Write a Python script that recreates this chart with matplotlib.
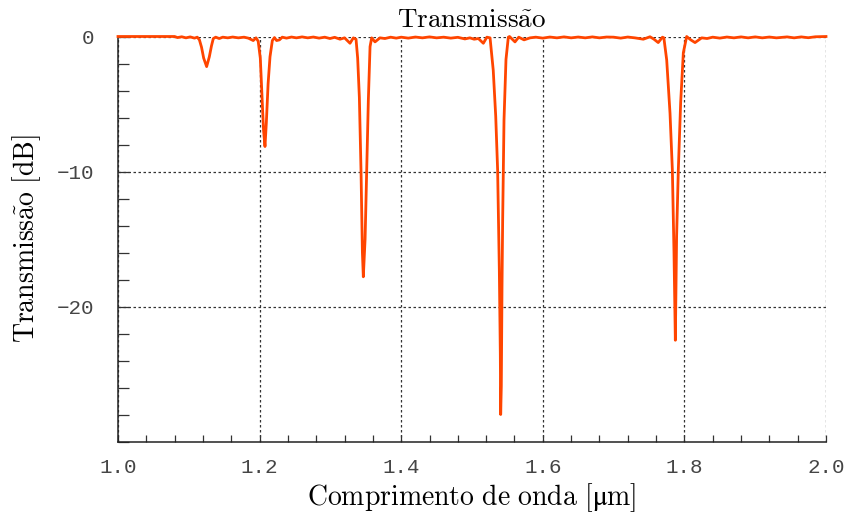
import matplotlib
matplotlib.use("Agg")
import matplotlib.pyplot as plt
from matplotlib.ticker import MultipleLocator, FixedLocator

plt.rcParams["mathtext.fontset"] = "cm"

# Transmission spectrum sampled points: wavelength [um] and transmission [dB]
wavelength = [
    1.000, 1.080, 1.084, 1.090, 1.096, 1.102, 1.108, 1.112, 1.115, 1.118,
    1.121, 1.1252, 1.129, 1.132, 1.1346, 1.138, 1.143, 1.148, 1.155, 1.162,
    1.170, 1.178, 1.184, 1.191, 1.195, 1.198, 1.201, 1.203, 1.2055, 1.2076,
    1.2095, 1.212, 1.2147, 1.218, 1.221, 1.224, 1.228, 1.232, 1.238, 1.245,
    1.252, 1.260, 1.268, 1.276, 1.284, 1.292, 1.2994, 1.306, 1.3136, 1.320,
    1.3277, 1.3324, 1.3362, 1.3385, 1.3409, 1.3433, 1.3452, 1.3465, 1.349, 1.3513,
    1.3536, 1.356, 1.3583, 1.363, 1.370, 1.377, 1.385, 1.393, 1.400, 1.410,
    1.420, 1.430, 1.440, 1.450, 1.460, 1.470, 1.480, 1.490, 1.497, 1.503,
    1.509, 1.516, 1.521, 1.5255, 1.530, 1.5335, 1.5362, 1.5386, 1.540, 1.5405,
    1.5414, 1.5424, 1.5433, 1.5452, 1.548, 1.5513, 1.553, 1.5607, 1.566, 1.5735,
    1.582, 1.590, 1.600, 1.610, 1.620, 1.630, 1.640, 1.650, 1.660, 1.670,
    1.680, 1.690, 1.700, 1.710, 1.720, 1.730, 1.742, 1.7514, 1.757, 1.763,
    1.769, 1.771, 1.775, 1.7797, 1.783, 1.7853, 1.7872, 1.789, 1.7914, 1.7947,
    1.7985, 1.8032, 1.809, 1.815, 1.8244, 1.832, 1.840, 1.850, 1.860, 1.870,
    1.880, 1.890, 1.900, 1.910, 1.920, 1.930, 1.945, 1.955, 1.965, 1.975,
    1.985, 2.000,
]
transmission_db = [
    0.00, 0.00, -0.08, -0.02, -0.10, -0.03, -0.12, -0.05, -0.25, -0.80,
    -1.60, -2.23, -1.50, -0.70, -0.15, -0.05, -0.15, -0.05, -0.10, -0.04,
    -0.10, -0.05, -0.12, -0.30, -0.10, -0.35, -1.60, -4.00, -6.90, -8.15,
    -6.40, -3.50, -1.50, -0.30, -0.08, -0.30, -0.25, -0.05, -0.12, -0.04,
    -0.10, -0.03, -0.10, -0.04, -0.12, -0.05, -0.15, -0.06, -0.20, -0.10,
    -0.50, -0.10, -0.20, -1.60, -4.50, -10.10, -16.00, -17.80, -15.00, -9.90,
    -4.70, -0.75, -0.10, -0.40, -0.10, -0.15, -0.05, -0.12, -0.05, -0.12,
    -0.04, -0.10, -0.03, -0.10, -0.05, -0.12, -0.06, -0.18, -0.10, -0.20,
    -0.15, -0.50, -0.05, -0.10, -2.50, -5.90, -9.90, -17.30, -23.50, -28.00,
    -25.90, -18.50, -13.60, -6.20, -1.70, -0.05, 0.00, -0.40, -0.05, -0.25,
    -0.10, -0.05, -0.12, -0.04, -0.10, -0.03, -0.10, -0.04, -0.10, -0.03,
    -0.10, -0.04, -0.05, -0.12, -0.04, -0.10, -0.20, -0.02, -0.20, -0.45,
    -0.05, -0.10, -1.74, -5.70, -9.90, -16.00, -22.50, -14.80, -9.90, -4.90,
    -1.20, 0.00, -0.25, -0.45, -0.10, -0.15, -0.05, -0.12, -0.04, -0.10,
    -0.03, -0.10, -0.03, -0.10, -0.04, -0.10, -0.03, -0.10, -0.03, -0.09,
    -0.02, 0.00,
]

x_ticks = [1.0, 1.2, 1.4, 1.6, 1.8, 2.0]
x_tick_labels = ["1.0", "1.2", "1.4", "1.6", "1.8", "2.0"]
y_ticks = [0, -10, -20]
y_tick_labels = ["0", "\u221210", "\u221220"]

fig = plt.figure(figsize=(8.45, 5.17), dpi=100)
ax = fig.add_axes([118 / 845, (517 - 441.5) / 517, 708 / 845, 405 / 517])

ax.plot(wavelength, transmission_db, color="#ff4500", lw=2.0, clip_on=False, zorder=3)

ax.set_xlim(1.0, 2.0)
ax.set_ylim(-30, 0)

ax.xaxis.set_major_locator(FixedLocator(x_ticks))
ax.set_xticklabels(x_tick_labels)
ax.xaxis.set_minor_locator(MultipleLocator(0.04))
ax.yaxis.set_major_locator(FixedLocator(y_ticks))
ax.set_yticklabels(y_tick_labels)
ax.yaxis.set_minor_locator(MultipleLocator(2))

for s in ("top", "right"):
    ax.spines[s].set_visible(False)
for s in ("left", "bottom"):
    ax.spines[s].set_color("#222222")
    ax.spines[s].set_linewidth(1.1)

ax.tick_params(axis="x", which="both", direction="in", length=5, width=0.9,
               color="#333333", pad=12)
ax.tick_params(axis="y", which="both", direction="in", length=8, width=0.9,
               color="#333333", pad=17)
for lab in ax.get_xticklabels() + ax.get_yticklabels():
    lab.set_family("Liberation Mono")
    lab.set_fontsize(15)
    lab.set_color("#454545")

ax.grid(True, which="major", color="#333333", linestyle=(0, (2, 2)), linewidth=0.9)
ax.set_axisbelow(True)

ax.set_title(r"$\mathrm{Transmiss\tilde{a}o}$", fontsize=19.5, pad=7)
ax.set_xlabel("$\\mathrm{Comprimento\\ de\\ onda\\ [\u03bcm]}$", fontsize=20, labelpad=3)
ax.set_ylabel(r"$\mathrm{Transmiss\tilde{a}o\ [dB]}$", fontsize=20, labelpad=10)

fig.savefig("out.png", dpi=100)
